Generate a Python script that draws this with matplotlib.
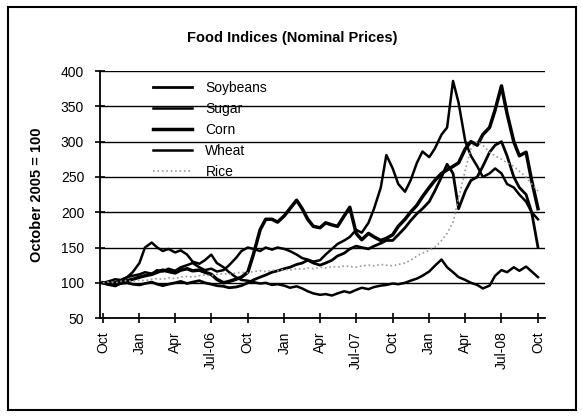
import pandas as pd
import matplotlib.pyplot as plt
from matplotlib.patches import Rectangle

plt.rcParams['font.family'] = ['Liberation Sans', 'DejaVu Sans']

# semi-monthly observations, Oct 2005 - Oct 2008 (index Oct 2005 = 100)
dates = pd.date_range('2005-10-01', periods=73, freq='SMS')

soybeans = [100, 98, 97, 99, 100, 98, 97, 99, 101, 98, 96, 98,
            100, 102, 99, 101, 103, 100, 98, 96, 95, 93, 94, 96,
            100, 104, 108, 111, 115, 117, 120, 122, 126, 128, 132, 128,
            125, 128, 132, 138, 142, 148, 152, 150, 148, 152, 156, 160,
            160, 168, 178, 188, 198, 205, 215, 230, 250, 268, 255, 205,
            230, 245, 250, 265, 285, 295, 300, 280, 250, 235, 225, 200,
            150]

sugar = [100, 98, 101, 103, 108, 115, 128, 150, 157, 150, 145, 148,
         143, 146, 140, 130, 127, 132, 140, 128, 122, 115, 108, 104,
         103, 101, 99, 100, 97, 98, 96, 93, 95, 92, 88, 85,
         83, 84, 82, 85, 88, 86, 90, 93, 91, 94, 96, 97,
         99, 98, 100, 103, 106, 110, 116, 124, 133, 122, 115, 108,
         104, 100, 97, 92, 96, 110, 118, 115, 122, 117, 123, 116,
         108]

corn = [100, 98, 96, 100, 103, 105, 108, 110, 112, 115, 118, 116,
        114, 118, 120, 117, 118, 115, 112, 105, 100, 102, 105, 108,
        115, 140, 175, 190, 190, 186, 195, 205, 217, 205, 190, 180,
        178, 185, 182, 180, 195, 207, 170, 161, 170, 165, 160, 163,
        168, 180, 190, 200, 210, 222, 235, 245, 255, 260, 265, 270,
        290, 300, 295, 310, 320, 345, 379, 340, 300, 280, 285, 245,
        205]

wheat = [100, 102, 105, 104, 108, 110, 112, 115, 113, 118, 116, 120,
         117, 122, 125, 128, 122, 118, 120, 116, 118, 125, 135, 145,
         150, 148, 145, 150, 147, 150, 148, 145, 140, 135, 133, 130,
         132, 140, 148, 155, 160, 165, 175, 171, 185, 205, 235, 281,
         262, 240, 229, 245, 270, 286, 278, 290, 310, 320, 386, 355,
         300, 280, 265, 250, 255, 262, 255, 240, 235, 225, 215, 200,
         190]

rice = [100, 101, 100, 102, 103, 102, 104, 103, 105, 106, 105, 107,
        106, 108, 109, 108, 110, 111, 110, 112, 113, 112, 114, 115,
        114, 116, 117, 116, 118, 117, 119, 118, 120, 119, 121, 120,
        122, 121, 123, 122, 124, 123, 122, 124, 125, 124, 126, 125,
        124, 126, 128, 132, 138, 142, 146, 150, 160, 170, 186, 220,
        260, 290, 300, 295, 285, 280, 275, 270, 265, 258, 250, 240,
        230]

tick_dates = pd.date_range('2005-10-01', '2008-10-01', freq='QS-OCT')
tick_labels = ['Oct', 'Jan', 'Apr', 'Jul-06', 'Oct', 'Jan', 'Apr',
               'Jul-07', 'Oct', 'Jan', 'Apr', 'Jul-08', 'Oct']

fig = plt.figure(figsize=(5.82, 4.18), dpi=100)
ax = fig.add_axes([0.172, 0.239, 0.764, 0.591])

ax.plot(dates, soybeans, color='black', lw=2.0, label='Soybeans')
ax.plot(dates, sugar, color='black', lw=1.8, label='Sugar')
ax.plot(dates, corn, color='black', lw=2.5, label='Corn')
ax.plot(dates, wheat, color='black', lw=1.8, label='Wheat')
ax.plot(dates, rice, color='0.6', lw=1.2, ls=':', label='Rice')

ax.set_ylim(50, 400)
ax.set_yticks(range(50, 401, 50))
ax.set_xlim(pd.Timestamp('2005-09-24'), pd.Timestamp('2008-10-18'))
ax.set_xticks(tick_dates)
ax.set_xticklabels(tick_labels, rotation=90)
ax.tick_params(axis='both', direction='inout', length=7, width=1.2,
               labelsize=10, color='black')
ax.tick_params(axis='x', pad=6)
ax.tick_params(axis='y', pad=8)

ax.yaxis.grid(True, color='black', lw=1.0)
ax.set_axisbelow(True)
for s in ['top', 'right']:
    ax.spines[s].set_visible(False)
ax.spines['left'].set_linewidth(1.3)
ax.spines['bottom'].set_linewidth(1.3)

ax.set_ylabel('October 2005 = 100', fontsize=10.5, fontweight='bold', labelpad=12)
fig.text(0.502, 0.91, 'Food Indices (Nominal Prices)', ha='center', va='center',
         fontsize=10.5, fontweight='bold')

ax.legend(loc='upper left', bbox_to_anchor=(0.09, 1.01), frameon=False,
          fontsize=10, handlelength=2.8, labelspacing=0.5, handletextpad=1.0)

fig.patches.append(Rectangle((0.014, 0.018), 0.976, 0.966, transform=fig.transFigure,
                             fill=False, lw=1.5, edgecolor='black'))

fig.savefig('out.png', dpi=100)
